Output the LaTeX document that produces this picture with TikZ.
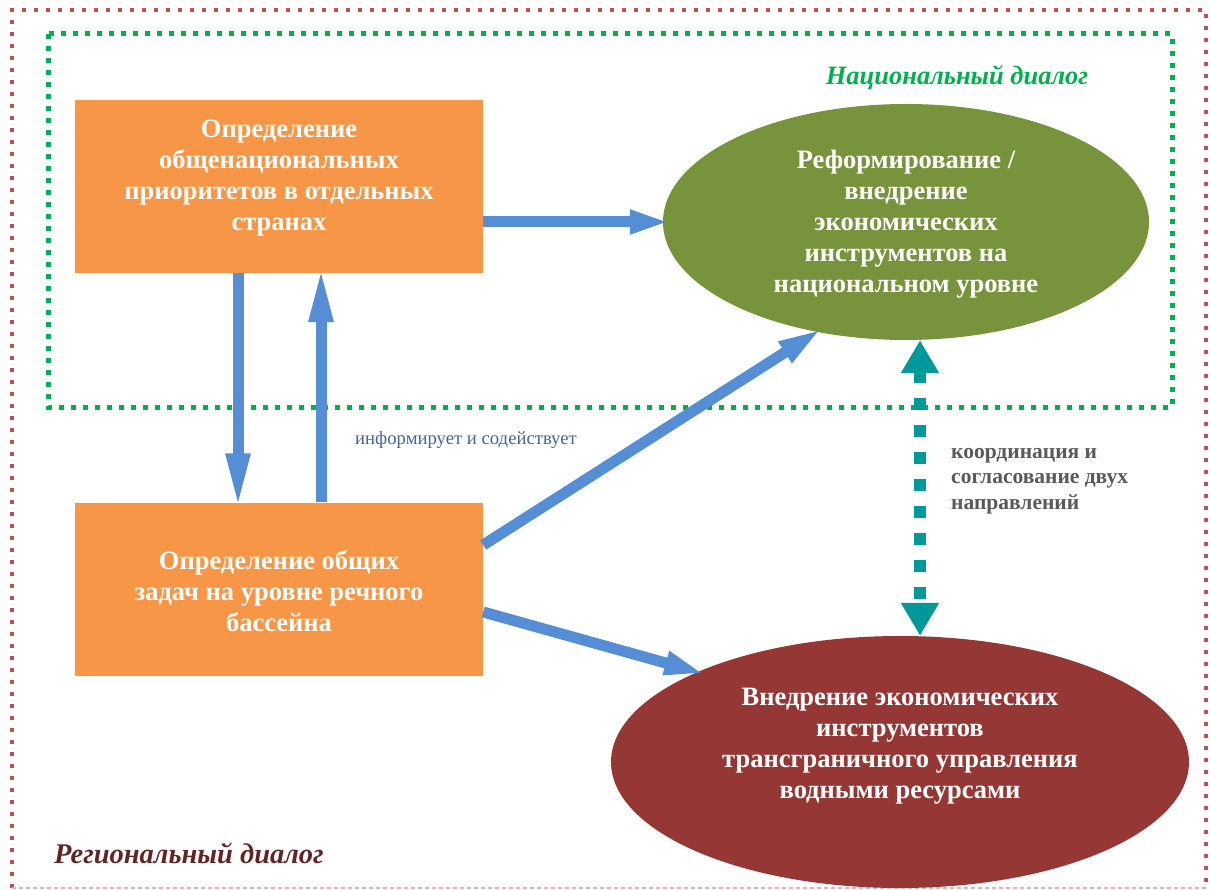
\documentclass[tikz,border=0pt]{standalone}
\usepackage{fontspec}
\setmainfont{Liberation Serif}
\usetikzlibrary{arrows.meta,shapes.geometric,calc}
\definecolor{orangebox}{HTML}{F79646}
\definecolor{greenell}{HTML}{77933C}
\definecolor{redell}{HTML}{953735}
\definecolor{bluearr}{HTML}{558ED5}
\definecolor{tealarr}{HTML}{009999}
\definecolor{greendot}{HTML}{00B050}
\definecolor{reddot}{HTML}{C0504D}
\definecolor{regtext}{HTML}{632523}
\definecolor{infotext}{HTML}{44659A}
\definecolor{graytext}{HTML}{595959}
\begin{document}
\begin{tikzpicture}[x=1pt,y=-1pt,
  boxshape/.style={fill=orangebox, minimum width=408pt, minimum height=173pt, inner sep=0pt},
  boxtext/.style={text=white, align=center, inner sep=0pt, font=\fontsize{26.5}{31}\selectfont\bfseries},
  ellgreen/.style={ellipse, fill=greenell, minimum width=486pt, minimum height=236pt, inner sep=0pt},
  ellred/.style={ellipse, fill=redell, minimum width=578pt, minimum height=252pt, inner sep=0pt},
  blarrow/.style={draw=bluearr, line width=11pt, shorten >=-7pt},
  tealdash/.style={draw=tealarr, line width=12pt, dash pattern=on 12pt off 15pt},
  natlabel/.style={text=greendot, font=\fontsize{26.5}{30}\selectfont\bfseries\itshape, inner sep=0pt},
  reglabel/.style={text=regtext, font=\fontsize{28.5}{32}\selectfont\bfseries\itshape, inner sep=0pt},
  infolabel/.style={text=infotext, font=\fontsize{18.7}{22}\selectfont, inner sep=0pt},
  coordlabel/.style={text=graytext, align=left, anchor=west, font=\fontsize{21.5}{25.5}\selectfont\bfseries, inner sep=0pt}
]
\useasboundingbox (0,0) rectangle (1210,890);
\fill[white] (0,0) rectangle (1210,890);
% frames
\draw[reddot, line width=4pt, dash pattern=on 4pt off 8pt] (12,888) -- (12,10) -- (1206,10) -- (1206,888);
\draw[reddot!45, line width=1.5pt, dash pattern=on 4pt off 3pt] (12,888) -- (1206,888);
\draw[greendot, line width=5pt, dash pattern=on 5pt off 7pt] (48,34) rectangle (1172,407);
% nodes
\node[boxshape] (b1) at (279,186.5) {};
\node[boxtext] (b1t) at (279,178) {Определение\\общенациональных\\приоритетов в отдельных\\странах};
\node[boxshape] (b2) at (279,589) {};
\node[boxtext] (b2t) at (279,591) {Определение общих\\задач на уровне речного\\бассейна};
\node[ellgreen] (e1) at (906,222) {};
\node[boxtext] (e1t) at (906,224.5) {Реформирование /\\внедрение\\экономических\\инструментов на\\национальном уровне};
\node[ellred] (e2) at (900,762) {};
\node[boxtext] (e2t) at (900,746) {Внедрение экономических\\инструментов\\трансграничного управления\\водными ресурсами};
% labels
\node[natlabel] (natl) at (957,78) {Национальный диалог};
\node[reglabel] (regl) at (189,853) {Региональный диалог};
\node[infolabel] (info) at (466,440) {информирует и содействует};
\node[coordlabel] (coord) at (951,481) {координация и\\согласование двух\\направлений};
% arrows
\draw[blarrow, -{Triangle[width=22pt,length=40pt]}] (b1.east |- e1.west) -- (e1.west);
\draw[blarrow, -{Triangle[width=22pt,length=56pt]}] ([xshift=-41pt]b1.south) -- ([xshift=-41pt]b2.north);
\draw[blarrow, -{Triangle[width=22pt,length=56pt]}] ([xshift=42pt]b2.north) -- ([xshift=42pt]b1.south);
\draw[blarrow, -{Triangle[width=22pt,length=45pt]}] ([yshift=44pt]b2.east) -- (e1.231);
\draw[blarrow, -{Triangle[width=22pt,length=40pt]}] ([yshift=-23pt]b2.east) -- (e2.156);
\draw[tealdash, {Triangle[width=36pt,length=33pt]}-{Triangle[width=36pt,length=33pt]}] ([xshift=14pt]e1.south) -- ([xshift=20pt]e2.north);
\end{tikzpicture}
\end{document}
